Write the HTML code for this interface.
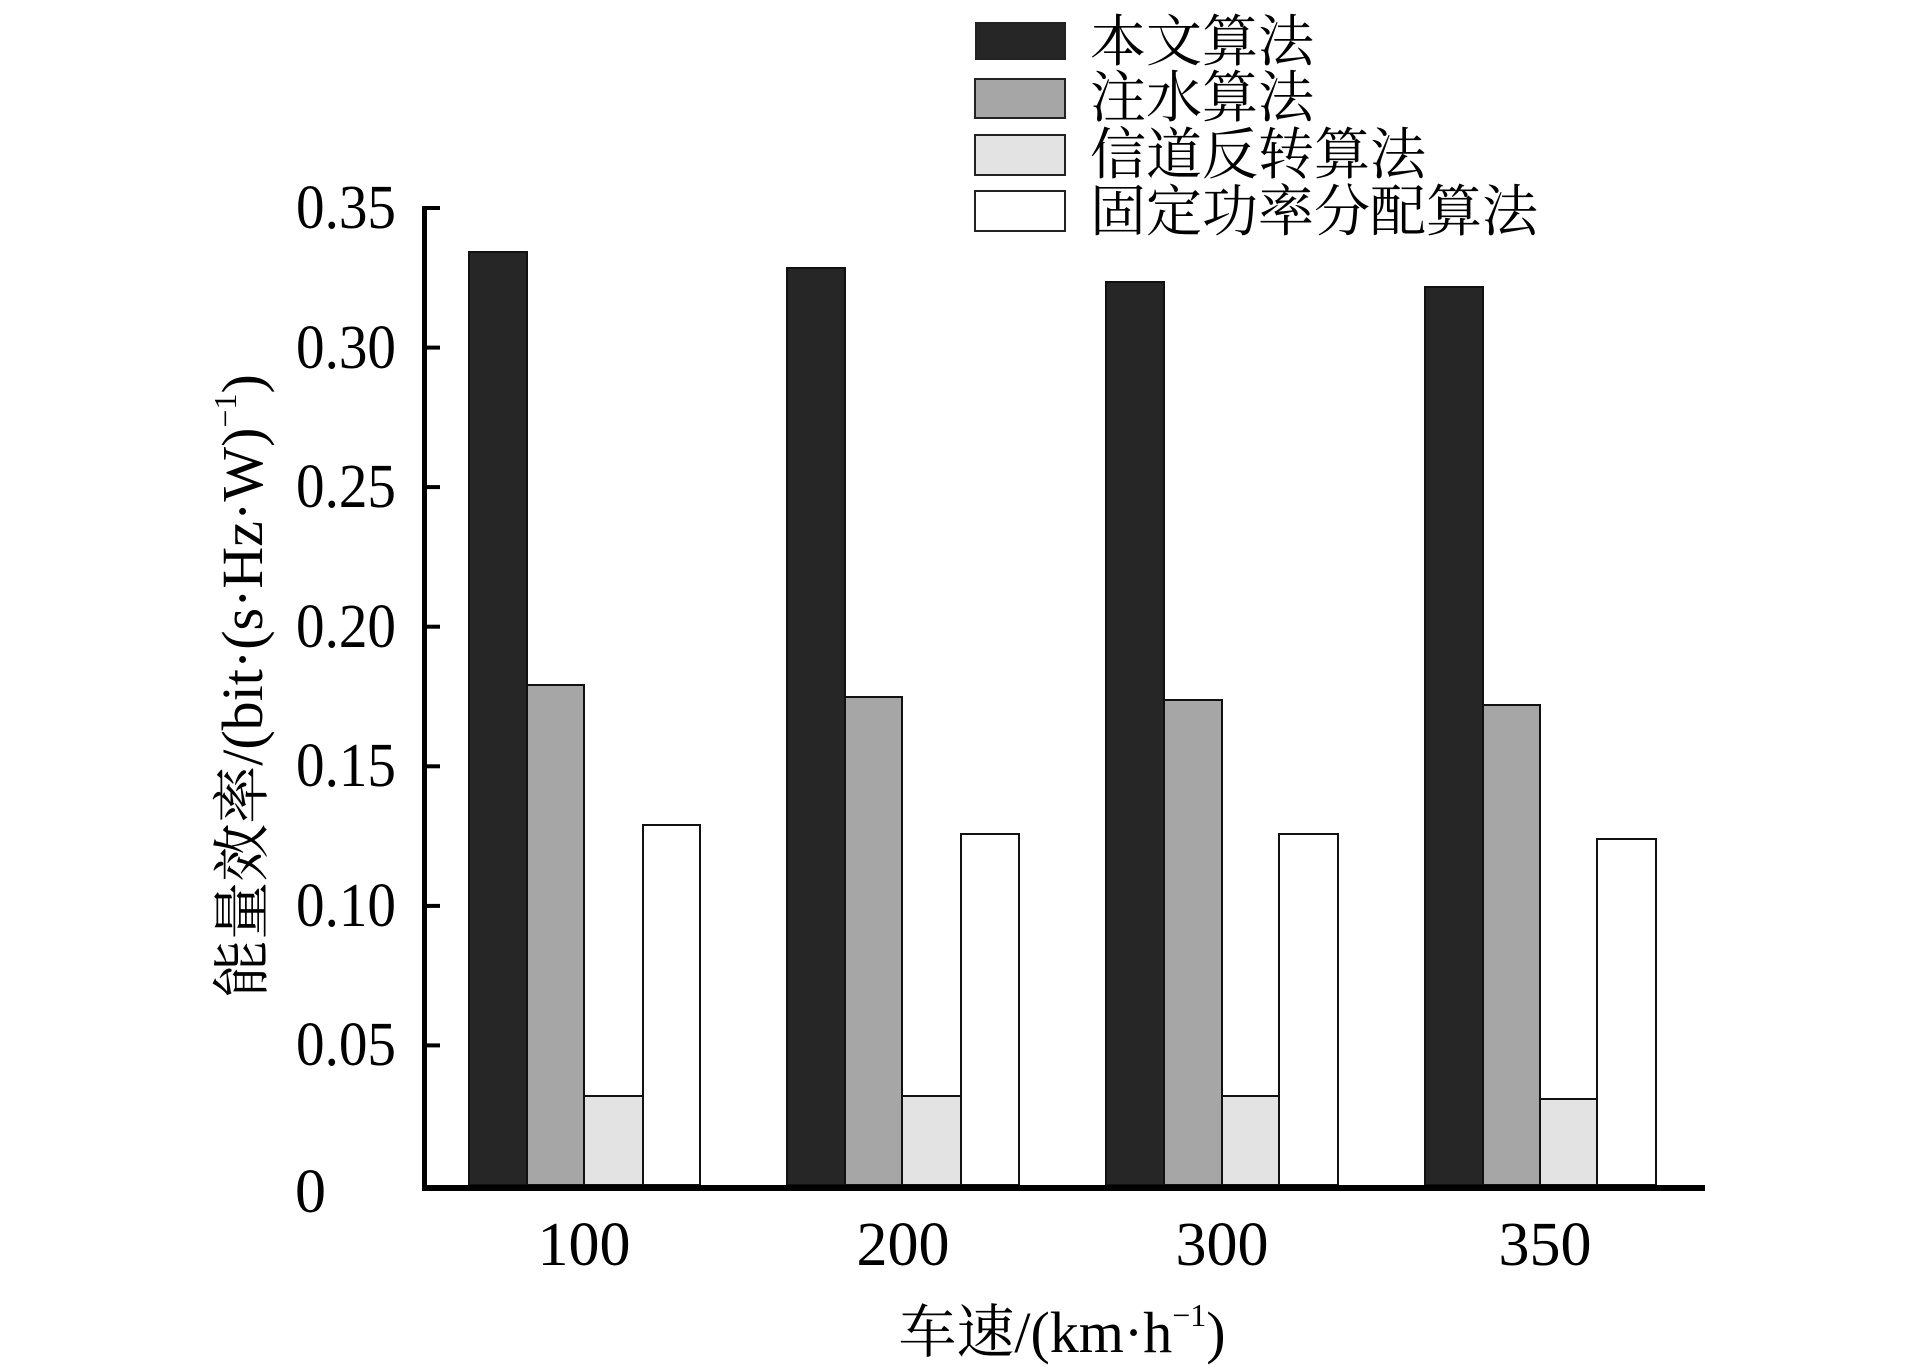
<!DOCTYPE html>
<html><head><meta charset="utf-8"><style>
html,body{margin:0;padding:0;background:#fff;}
svg{display:block;}
.t{font-family:"Liberation Serif","Noto Serif CJK SC",serif;fill:#000;}
.c{font-family:"Liberation Serif","Noto Serif CJK SC","Noto Sans CJK SC",serif;fill:#000;}
</style></head><body>
<svg width="1913" height="1370" viewBox="0 0 1913 1370" xmlns="http://www.w3.org/2000/svg">
<rect width="1913" height="1370" fill="#fff"/>
<g stroke="#111" stroke-width="2">
<rect x="469" y="252" width="58" height="933" fill="#262626"/>
<rect x="527" y="685" width="57" height="500" fill="#a6a6a6"/>
<rect x="584" y="1096" width="59" height="89" fill="#e3e3e3"/>
<rect x="643" y="825" width="57" height="360" fill="#fff"/>
<rect x="787" y="268" width="58" height="917" fill="#262626"/>
<rect x="845" y="697" width="57" height="488" fill="#a6a6a6"/>
<rect x="902" y="1096" width="59" height="89" fill="#e3e3e3"/>
<rect x="961" y="834" width="58" height="351" fill="#fff"/>
<rect x="1106" y="282" width="58" height="903" fill="#262626"/>
<rect x="1164" y="700" width="58" height="485" fill="#a6a6a6"/>
<rect x="1222" y="1096" width="57" height="89" fill="#e3e3e3"/>
<rect x="1279" y="834" width="59" height="351" fill="#fff"/>
<rect x="1425" y="287" width="58" height="898" fill="#262626"/>
<rect x="1483" y="705" width="57" height="480" fill="#a6a6a6"/>
<rect x="1540" y="1099" width="57" height="86" fill="#e3e3e3"/>
<rect x="1597" y="839" width="59" height="346" fill="#fff"/>
</g>
<line x1="424.5" y1="206" x2="424.5" y2="1191" stroke="#000" stroke-width="5"/>
<line x1="422" y1="1188" x2="1705" y2="1188" stroke="#000" stroke-width="6"/>
<g stroke="#000" stroke-width="4">
<line x1="424" y1="208" x2="440" y2="208"/>
<line x1="424" y1="347.6" x2="440" y2="347.6"/>
<line x1="424" y1="487.1" x2="440" y2="487.1"/>
<line x1="424" y1="626.7" x2="440" y2="626.7"/>
<line x1="424" y1="766.3" x2="440" y2="766.3"/>
<line x1="424" y1="905.9" x2="440" y2="905.9"/>
<line x1="424" y1="1045.4" x2="440" y2="1045.4"/>
</g>
<g class="t" font-size="62" text-anchor="end">
<text x="396" y="228" textLength="100" lengthAdjust="spacingAndGlyphs">0.35</text>
<text x="396" y="368" textLength="100" lengthAdjust="spacingAndGlyphs">0.30</text>
<text x="396" y="507" textLength="100" lengthAdjust="spacingAndGlyphs">0.25</text>
<text x="396" y="647" textLength="100" lengthAdjust="spacingAndGlyphs">0.20</text>
<text x="396" y="786" textLength="100" lengthAdjust="spacingAndGlyphs">0.15</text>
<text x="396" y="926" textLength="100" lengthAdjust="spacingAndGlyphs">0.10</text>
<text x="396" y="1065" textLength="100" lengthAdjust="spacingAndGlyphs">0.05</text>
<text x="326" y="1212">0</text>
</g>
<g class="t" font-size="62" text-anchor="middle">
<text x="584" y="1265">100</text>
<text x="903" y="1265">200</text>
<text x="1222" y="1265">300</text>
<text x="1545" y="1265">350</text>
</g>
<text class="c" x="1062" y="1352" font-size="58" text-anchor="middle">车速/(km·h<tspan font-size="32" dy="-26">−1</tspan><tspan dy="26">)</tspan></text>
<text class="c" transform="translate(262,686) rotate(-90)" font-size="58" text-anchor="middle">能量效率/(bit·(s·Hz·W)<tspan font-size="32" dy="-26">−1</tspan><tspan dy="26">)</tspan></text>
<g stroke="#222" stroke-width="2">
<rect x="976" y="23" width="89" height="36" fill="#262626"/>
<rect x="975" y="79" width="90" height="39" fill="#a6a6a6"/>
<rect x="975" y="135" width="90" height="40" fill="#e3e3e3"/>
<rect x="975" y="191" width="90" height="40" fill="#fff"/>
</g>
<g class="c" font-size="56">
<text x="1090" y="61">本文算法</text>
<text x="1090" y="117">注水算法</text>
<text x="1090" y="174">信道反转算法</text>
<text x="1090" y="231">固定功率分配算法</text>
</g>
</svg>
</body></html>
